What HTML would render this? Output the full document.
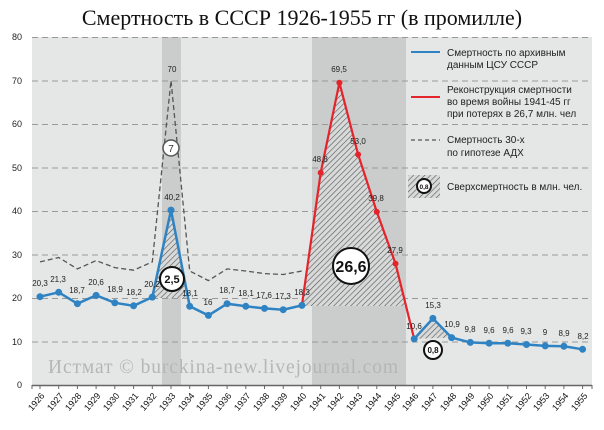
<!DOCTYPE html>
<html><head><meta charset="utf-8"><style>
body{margin:0;background:#fff;width:604px;height:430px;overflow:hidden}
svg{display:block}
text{font-family:"Liberation Sans","DejaVu Sans",sans-serif}
.l{font-size:8px;fill:#222;text-anchor:middle}
.lg{font-size:10px;fill:#222}
</style></head><body>
<svg width="604" height="430" viewBox="0 0 604 430">
<defs>
<pattern id="h" width="4" height="4" patternUnits="userSpaceOnUse" patternTransform="rotate(45)">
<rect width="4" height="4" fill="#d8d9d9"/><line x1="0" y1="0" x2="0" y2="4" stroke="#555" stroke-width="1.2"/>
</pattern>
</defs>
<text x="302" y="25" text-anchor="middle" style="font-family:'Liberation Serif',serif;font-size:22px;fill:#111">Смертность в СССР 1926-1955 гг (в промилле)</text>
<rect x="32" y="37" width="560" height="348" fill="#e5e7e7"/>
<rect x="162" y="37" width="19" height="348" fill="#cbcccc"/>
<rect x="312" y="37" width="94" height="348" fill="#cbcccc"/>
<g stroke="#999" stroke-dasharray="6,4" stroke-width="1">
<line x1="32" y1="37.5" x2="592" y2="37.5"/><line x1="32" y1="81" x2="592" y2="81"/>
<line x1="32" y1="124.5" x2="592" y2="124.5"/><line x1="32" y1="168" x2="592" y2="168"/>
<line x1="32" y1="211.5" x2="592" y2="211.5"/><line x1="32" y1="255" x2="592" y2="255"/>
<line x1="32" y1="298.5" x2="592" y2="298.5"/><line x1="32" y1="342" x2="592" y2="342"/>
</g>
<line x1="32" y1="385.5" x2="592" y2="385.5" stroke="#666" stroke-width="1.5"/>
<g font-size="9" fill="#222" text-anchor="end">
<text x="22" y="40">80</text><text x="22" y="84">70</text><text x="22" y="127">60</text><text x="22" y="171">50</text><text x="22" y="214">40</text><text x="22" y="258">30</text><text x="22" y="301">20</text><text x="22" y="345">10</text><text x="22" y="388">0</text>
</g>
<text x="48" y="373" textLength="350" style="font-family:'Liberation Serif',serif;font-size:19.5px;fill:#b5b6b6">Истмат © burckina-new.livejournal.com</text>
<polygon points="152.3,298 152.3,297.1 171,210.1 188.1,298" fill="url(#h)"/>
<polygon points="301.9,306 301.9,305.4 320.7,172.7 339.4,82.7 358.1,154.5 376.8,211.9 395.5,263.6 406,306" fill="url(#h)"/>
<polygon points="414.2,338.9 432.9,318.4 451.6,337.6" fill="url(#h)"/>
<polyline fill="none" stroke="#555" stroke-width="1.3" stroke-dasharray="5,3" points="40,261.9 58.7,257.5 77.4,268.9 96.1,260.6 114.8,267.6 133.6,270.2 152.3,261.9 171,80.5 189.7,271 208.4,280.6 227.1,268.9 245.8,271 264.5,273.6 283.2,274.5 301.9,271"/>
<polyline fill="none" stroke="#e4232b" stroke-width="2.2" points="301.9,305.4 320.7,172.7 339.4,82.7 358.1,154.5 376.8,211.9 395.5,263.6 414.2,338.9"/>
<g fill="#e4232b"><circle cx="320.7" cy="172.7" r="3"/><circle cx="339.4" cy="82.7" r="3"/><circle cx="358.1" cy="154.5" r="3"/><circle cx="376.8" cy="211.9" r="3"/><circle cx="395.5" cy="263.6" r="3"/></g>
<polyline fill="none" stroke="#2f83c3" stroke-width="2.5" points="40,296.7 58.7,292.3 77.4,303.7 96.1,295.4 114.8,302.8 133.6,305.8 152.3,297.1 171,210.1 189.7,306.3 208.4,315.4 227.1,303.7 245.8,306.3 264.5,308.4 283.2,309.7 301.9,305.4"/>
<polyline fill="none" stroke="#2f83c3" stroke-width="2.5" points="414.2,338.9 432.9,318.4 451.6,337.6 470.3,342.4 489.1,343.2 507.8,343.2 526.5,344.5 545.2,345.9 563.9,346.3 582.6,349.3"/>
<g fill="#2f83c3">
<circle cx="40" cy="296.7" r="3.5"/><circle cx="58.7" cy="292.3" r="3.5"/><circle cx="77.4" cy="303.7" r="3.5"/><circle cx="96.1" cy="295.4" r="3.5"/><circle cx="114.8" cy="302.8" r="3.5"/><circle cx="133.6" cy="305.8" r="3.5"/><circle cx="152.3" cy="297.1" r="3.5"/><circle cx="171" cy="210.1" r="3.5"/><circle cx="189.7" cy="306.3" r="3.5"/><circle cx="208.4" cy="315.4" r="3.5"/><circle cx="227.1" cy="303.7" r="3.5"/><circle cx="245.8" cy="306.3" r="3.5"/><circle cx="264.5" cy="308.4" r="3.5"/><circle cx="283.2" cy="309.7" r="3.5"/><circle cx="301.9" cy="305.4" r="3.5"/>
<circle cx="414.2" cy="338.9" r="3.5"/><circle cx="432.9" cy="318.4" r="3.5"/><circle cx="451.6" cy="337.6" r="3.5"/><circle cx="470.3" cy="342.4" r="3.5"/><circle cx="489.1" cy="343.2" r="3.5"/><circle cx="507.8" cy="343.2" r="3.5"/><circle cx="526.5" cy="344.5" r="3.5"/><circle cx="545.2" cy="345.9" r="3.5"/><circle cx="563.9" cy="346.3" r="3.5"/><circle cx="582.6" cy="349.3" r="3.5"/>
</g>
<g class="l">
<text x="40" y="286">20,3</text><text x="58" y="282">21,3</text><text x="77" y="293">18,7</text><text x="96" y="285">20,6</text><text x="115" y="292">18,9</text><text x="134" y="295">18,2</text><text x="152" y="287">20,2</text><text x="172" y="200">40,2</text><text x="172" y="72">70</text><text x="190" y="296">18,1</text><text x="208" y="305">16</text><text x="227" y="293">18,7</text><text x="246" y="296">18,1</text><text x="264" y="298">17,6</text><text x="283" y="299">17,3</text><text x="302" y="295">18,3</text>
<text x="320" y="162">48,8</text><text x="339" y="72">69,5</text><text x="358" y="144">53,0</text><text x="376" y="201">39,8</text><text x="395" y="253">27,9</text>
<text x="414" y="329">10,6</text><text x="433" y="308">15,3</text><text x="452" y="327">10,9</text><text x="470" y="332">9,8</text><text x="489" y="333">9,6</text><text x="508" y="333">9,6</text><text x="526" y="334">9,3</text><text x="545" y="335">9</text><text x="564" y="336">8,9</text><text x="583" y="339">8,2</text>
</g>
<g stroke="#111" fill="#fff">
<circle cx="171" cy="148" r="8" stroke="#555" stroke-width="1.5"/>
<circle cx="172" cy="279" r="12" stroke-width="2"/>
<circle cx="351" cy="266" r="18" stroke-width="2"/>
<circle cx="433" cy="350" r="9" stroke-width="2"/>
</g>
<text x="171" y="152" text-anchor="middle" font-size="10" fill="#333">7</text>
<text x="172" y="283" text-anchor="middle" font-size="11" font-weight="bold" fill="#111">2,5</text>
<text x="351" y="272" text-anchor="middle" font-size="16" font-weight="bold" fill="#111">26,6</text>
<text x="433" y="353" text-anchor="middle" font-size="8" font-weight="bold" fill="#111">0,8</text>
<g stroke="#666"><line x1="32" y1="385" x2="32" y2="389"/>
<line x1="40" y1="385" x2="40" y2="389"/><line x1="58.7" y1="385" x2="58.7" y2="389"/><line x1="77.4" y1="385" x2="77.4" y2="389"/><line x1="96.1" y1="385" x2="96.1" y2="389"/><line x1="114.8" y1="385" x2="114.8" y2="389"/><line x1="133.6" y1="385" x2="133.6" y2="389"/><line x1="152.3" y1="385" x2="152.3" y2="389"/><line x1="171" y1="385" x2="171" y2="389"/><line x1="189.7" y1="385" x2="189.7" y2="389"/><line x1="208.4" y1="385" x2="208.4" y2="389"/><line x1="227.1" y1="385" x2="227.1" y2="389"/><line x1="245.8" y1="385" x2="245.8" y2="389"/><line x1="264.5" y1="385" x2="264.5" y2="389"/><line x1="283.2" y1="385" x2="283.2" y2="389"/><line x1="301.9" y1="385" x2="301.9" y2="389"/><line x1="320.7" y1="385" x2="320.7" y2="389"/><line x1="339.4" y1="385" x2="339.4" y2="389"/><line x1="358.1" y1="385" x2="358.1" y2="389"/><line x1="376.8" y1="385" x2="376.8" y2="389"/><line x1="395.5" y1="385" x2="395.5" y2="389"/><line x1="414.2" y1="385" x2="414.2" y2="389"/><line x1="432.9" y1="385" x2="432.9" y2="389"/><line x1="451.6" y1="385" x2="451.6" y2="389"/><line x1="470.3" y1="385" x2="470.3" y2="389"/><line x1="489.1" y1="385" x2="489.1" y2="389"/><line x1="507.8" y1="385" x2="507.8" y2="389"/><line x1="526.5" y1="385" x2="526.5" y2="389"/><line x1="545.2" y1="385" x2="545.2" y2="389"/><line x1="563.9" y1="385" x2="563.9" y2="389"/><line x1="582.6" y1="385" x2="582.6" y2="389"/><line x1="592" y1="385" x2="592" y2="389"/></g>
<g font-size="9" fill="#111" text-anchor="end">
<text transform="translate(45,396) rotate(-50)">1926</text><text transform="translate(64,396) rotate(-50)">1927</text><text transform="translate(82,396) rotate(-50)">1928</text><text transform="translate(101,396) rotate(-50)">1929</text><text transform="translate(120,396) rotate(-50)">1930</text><text transform="translate(139,396) rotate(-50)">1931</text><text transform="translate(157,396) rotate(-50)">1932</text><text transform="translate(176,396) rotate(-50)">1933</text><text transform="translate(195,396) rotate(-50)">1934</text><text transform="translate(213,396) rotate(-50)">1935</text><text transform="translate(232,396) rotate(-50)">1936</text><text transform="translate(251,396) rotate(-50)">1937</text><text transform="translate(270,396) rotate(-50)">1938</text><text transform="translate(288,396) rotate(-50)">1939</text><text transform="translate(307,396) rotate(-50)">1940</text><text transform="translate(326,396) rotate(-50)">1941</text><text transform="translate(344,396) rotate(-50)">1942</text><text transform="translate(363,396) rotate(-50)">1943</text><text transform="translate(382,396) rotate(-50)">1944</text><text transform="translate(401,396) rotate(-50)">1945</text><text transform="translate(419,396) rotate(-50)">1946</text><text transform="translate(438,396) rotate(-50)">1947</text><text transform="translate(457,396) rotate(-50)">1948</text><text transform="translate(475,396) rotate(-50)">1949</text><text transform="translate(494,396) rotate(-50)">1950</text><text transform="translate(513,396) rotate(-50)">1951</text><text transform="translate(532,396) rotate(-50)">1952</text><text transform="translate(550,396) rotate(-50)">1953</text><text transform="translate(569,396) rotate(-50)">1954</text><text transform="translate(588,396) rotate(-50)">1955</text>
</g>
<line x1="411" y1="52" x2="440" y2="52" stroke="#2f83c3" stroke-width="2"/>
<line x1="411" y1="97" x2="440" y2="97" stroke="#e4232b" stroke-width="2"/>
<line x1="411" y1="140" x2="440" y2="140" stroke="#555" stroke-width="1.3" stroke-dasharray="4,3"/>
<rect x="408" y="175" width="32" height="23" fill="url(#h)"/>
<circle cx="424" cy="186" r="7" fill="#fff" stroke="#111" stroke-width="2"/>
<text x="424" y="189" text-anchor="middle" font-size="6.5" font-weight="bold" fill="#111">0,8</text>
<g class="lg">
<text x="447" y="56">Смертность по архивным</text><text x="447" y="68">данным ЦСУ СССР</text>
<text x="447" y="93">Реконструкция смертности</text><text x="447" y="105">во время войны 1941-45 гг</text><text x="447" y="117">при потерях в 26,7 млн. чел</text>
<text x="447" y="143">Смертность 30-х</text><text x="447" y="156">по гипотезе АДХ</text>
<text x="447" y="190">Сверхсмертность в млн. чел.</text>
</g>
</svg>
</body></html>
